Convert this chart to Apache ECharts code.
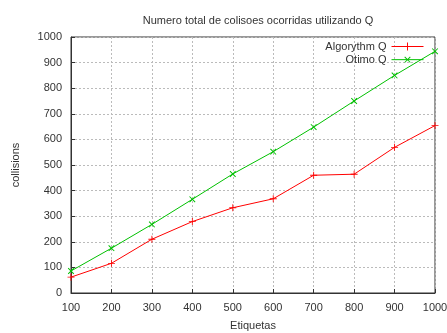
<!DOCTYPE html>
<html>
<head>
<meta charset="utf-8">
<script src="https://cdn.jsdelivr.net/npm/echarts@6/dist/echarts.min.js"></script>
<style>
  html, body { margin: 0; padding: 0; background: #fff; }
  #chart { width: 447px; height: 333px; }
</style>
</head>
<body>
<div id="chart"></div>
<script>
const etiquetas = [100, 200, 300, 400, 500, 600, 700, 800, 900, 1000];
const algorythmQ = [62, 116, 210, 279, 333, 368, 460, 464, 569, 654];
const otimoQ = [86, 175, 268, 366, 465, 552, 648, 750, 850, 944];

const plusPath = 'path://M4.4,0H5.6V4.4H10V5.6H5.6V10H4.4V5.6H0V4.4H4.4Z';
const font = 'Liberation Sans';

const chart = echarts.init(document.getElementById('chart'));

const toPairs = (ys) => etiquetas.map((x, i) => [x, ys[i]]);

chart.setOption({
  animation: false,
  textStyle: { fontFamily: font },
  title: {
    text: 'Numero total de colisoes ocorridas utilizando Q',
    left: 253,
    top: 10,
    textAlign: 'center',
    textStyle: { fontSize: 11, fontWeight: 'normal', color: '#333', fontFamily: font }
  },
  legend: {
    orient: 'vertical',
    right: 18,
    top: 36,
    align: 'right',
    itemGap: 2,
    itemWidth: 32,
    itemHeight: 10,
    lineStyle: { width: 1 },
    textStyle: { fontSize: 11, color: '#333', fontFamily: font },
    data: [
      { name: 'Algorythm Q' },
      { name: 'Otimo Q' }
    ]
  },
  grid: {
    left: 71,
    right: 12,
    top: 37,
    bottom: 40,
    outerBoundsMode: 'none',
    containLabel: false,
    show: true,
    borderColor: '#333',
    borderWidth: 1
  },
  xAxis: {
    type: 'value',
    min: 100,
    max: 1000,
    interval: 100,
    name: 'Etiquetas',
    nameLocation: 'middle',
    nameGap: 27,
    nameTextStyle: { fontSize: 11, color: '#333', fontFamily: font },
    axisLine: { lineStyle: { color: '#333' } },
    axisTick: { inside: true, length: 4, lineStyle: { color: '#333' } },
    axisLabel: { fontSize: 11, color: '#333', margin: 9, fontFamily: font, formatter: (v) => String(v) },
    splitLine: { show: true, lineStyle: { color: '#bbb', type: [2, 2] } }
  },
  yAxis: {
    type: 'value',
    min: 0,
    max: 1000,
    interval: 100,
    name: 'collisions',
    nameLocation: 'middle',
    nameGap: 50,
    nameTextStyle: { fontSize: 11, color: '#333', fontFamily: font },
    axisLine: { show: true, lineStyle: { color: '#333' } },
    axisTick: { show: true, inside: true, length: 4, lineStyle: { color: '#333' } },
    axisLabel: { fontSize: 11, color: '#333', margin: 9, fontFamily: font, formatter: (v) => String(v) },
    splitLine: { show: true, lineStyle: { color: '#bbb', type: [2, 2] } }
  },
  series: [
    {
      name: 'Algorythm Q',
      type: 'line',
      data: toPairs(algorythmQ),
      symbol: plusPath,
      symbolSize: 7,
      showAllSymbol: true,
      lineStyle: { color: '#ff0000', width: 1 },
      itemStyle: { color: '#ff0000' }
    },
    {
      name: 'Otimo Q',
      type: 'line',
      data: toPairs(otimoQ),
      symbol: plusPath,
      symbolRotate: 45,
      symbolSize: 8,
      showAllSymbol: true,
      lineStyle: { color: '#00c000', width: 1 },
      itemStyle: { color: '#00c000' }
    }
  ]
});
</script>
</body>
</html>
